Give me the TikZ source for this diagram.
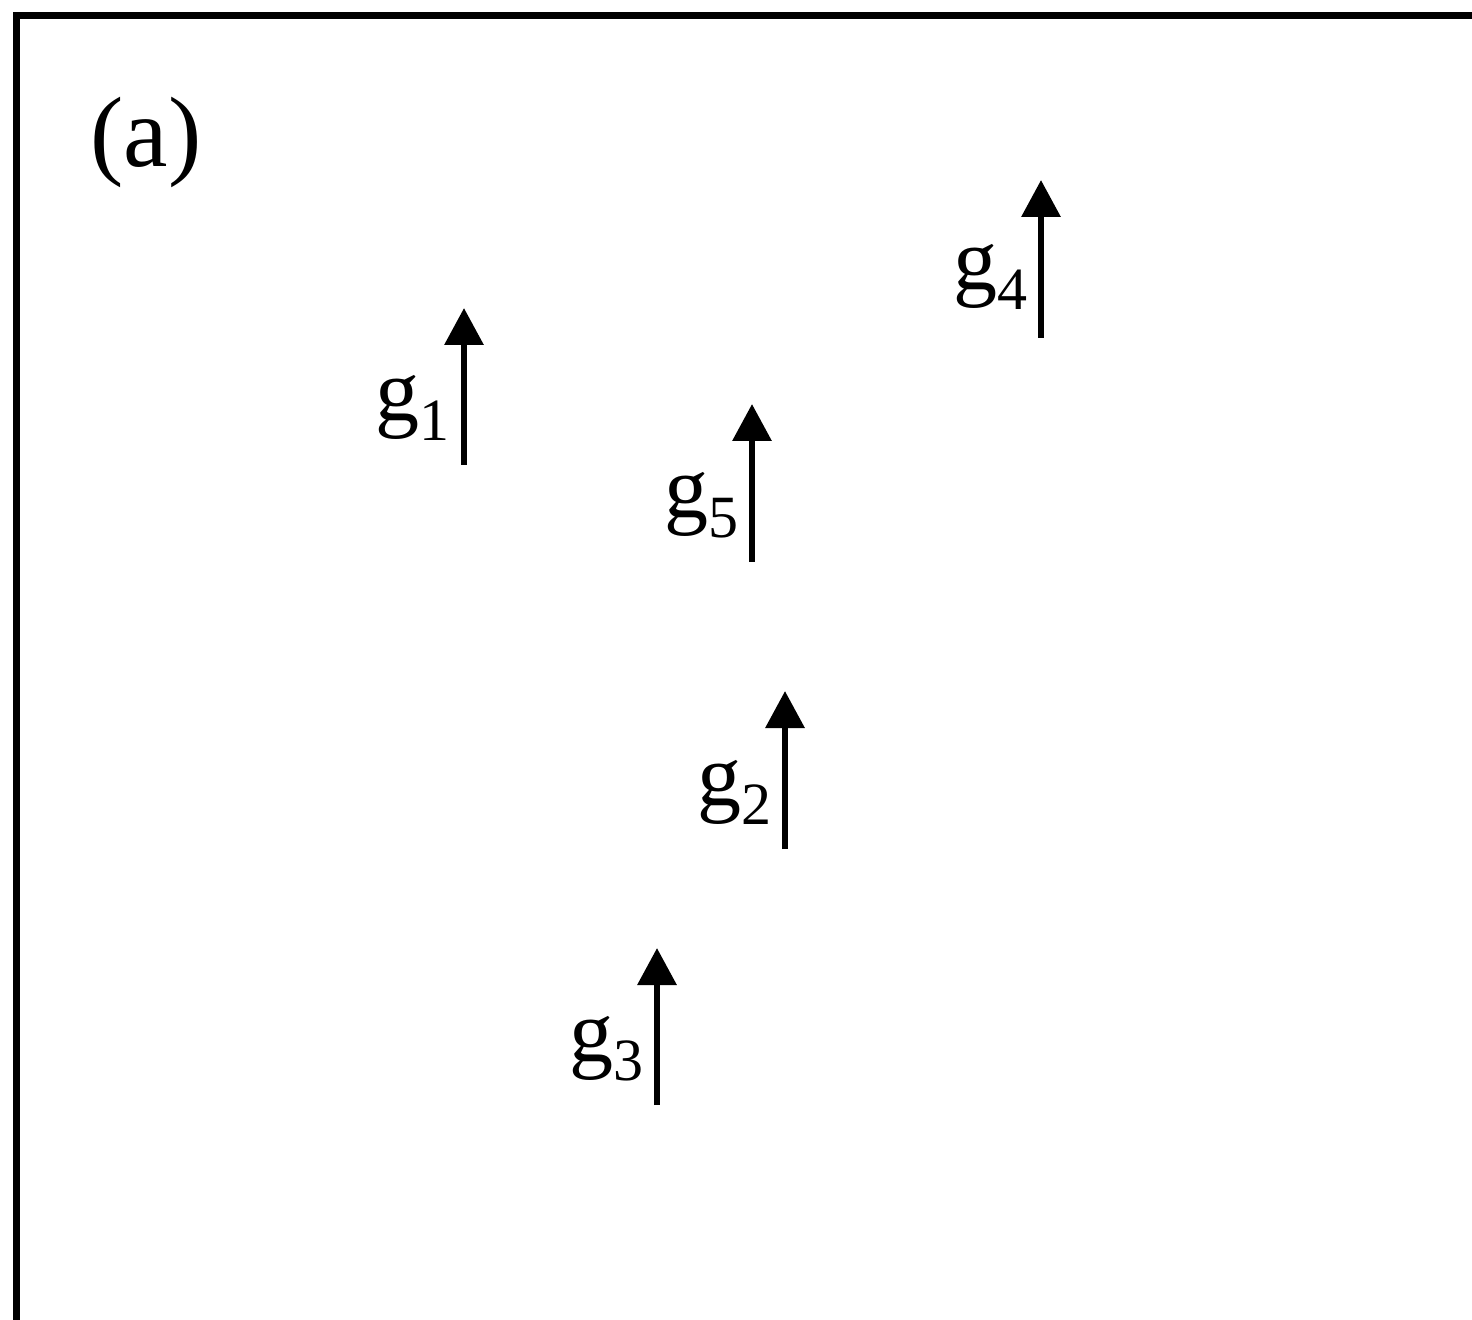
\documentclass[tikz,border=0pt]{standalone}
\usepackage{fontspec}
\setmainfont{Liberation Serif}
\usetikzlibrary{arrows.meta}
\newcommand{\glab}[1]{{\fontsize{44}{44}\selectfont g\raisebox{-0.22em}{\fontsize{30}{30}\selectfont #1}}}
\begin{document}
\begin{tikzpicture}[x=0.5pt,y=-0.5pt,
  frameline/.style={line width=3.5pt,black},
  vec/.style={line width=3.2pt,-{Triangle[width=19pt,length=18.5pt]}},
  vlabel/.style={anchor=base east,inner sep=0pt}]
\useasboundingbox (0,0) rectangle (1472,1320);
\fill[white] (0,0) rectangle (1472,1320);
\coordinate (fbl) at (16.5,1320);
\coordinate (fc) at (16.5,16);
\coordinate (ftr) at (1472,16);
\draw[frameline,line join=miter] (fbl) -- (fc) -- (ftr);
\node[anchor=base west,inner sep=0pt,font=\fontsize{50}{50}\selectfont] (lab) at (90,167) {(a)};
% arrows
\coordinate (b1) at (464,465); \coordinate (t1) at (464,308);
\coordinate (b2) at (785,849); \coordinate (t2) at (785,691);
\coordinate (b3) at (657,1105); \coordinate (t3) at (657,948);
\coordinate (b4) at (1041,338); \coordinate (t4) at (1041,180);
\coordinate (b5) at (752,562); \coordinate (t5) at (752,404);
\foreach \i in {1,...,5}{\draw[vec] (b\i) -- (t\i);}
\node[vlabel] (g1) at (450,421) {\glab{1}};
\node[vlabel] (g2) at (772,805) {\glab{2}};
\node[vlabel] (g3) at (644,1061) {\glab{3}};
\node[vlabel] (g4) at (1028,290) {\glab{4}};
\node[vlabel] (g5) at (739,518) {\glab{5}};
\end{tikzpicture}
\end{document}
